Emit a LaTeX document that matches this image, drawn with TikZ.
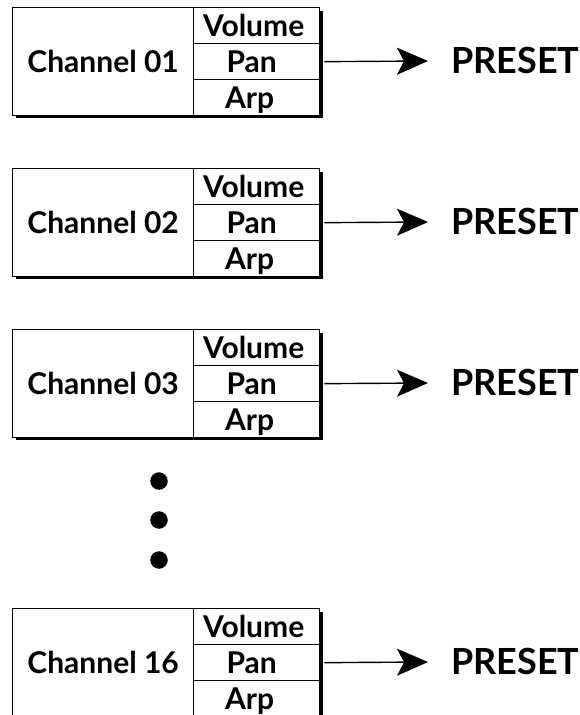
\documentclass[tikz,border=0pt]{standalone}
\usepackage{fontspec}
\setmainfont{Lato}
\usetikzlibrary{arrows.meta}
\begin{document}
\begin{tikzpicture}[x=1pt,y=-1pt,
  boxline/.style={draw, line width=1.3pt, fill=white, inner sep=0pt, anchor=north west,
    text height=21.5pt, text depth=0pt},
  chan/.style={boxline, minimum width=181pt, minimum height=108pt,
    font=\bfseries\fontsize{30}{30}\selectfont},
  cell/.style={boxline, minimum width=126pt, minimum height=36pt,
    font=\bfseries\fontsize{30}{30}\selectfont},
  pre/.style={inner sep=0pt, anchor=west, text height=25.8pt, text depth=0pt,
    font=\bfseries\fontsize{36}{36}\selectfont},
  arr/.style={line width=1.4pt, -{Stealth[length=31pt, width=27pt, inset=7pt]}},
  dot/.style={circle, fill, inner sep=0pt, minimum size=17.5pt}]
\useasboundingbox (0,0) rectangle (579,715);
\foreach \t/\n in {7/01,168/02,329/03,608/16}{
  \fill (16,\t+4) rectangle (323,\t+111);
  \node[chan] (ch\n) at (12,\t) {Channel \n};
  \node[cell] (vol\n) at (193,\t) {\hspace*{-6pt}Volume};
  \node[cell] (pan\n) at (193,\t+36) {\hspace*{-10pt}Pan};
  \node[cell] (arp\n) at (193,\t+72) {\hspace*{-14pt}Arp};
  \node[pre] (pre\n) at (451,\t+54) {PRESET};
  \draw[arr] ([xshift=4pt]pan\n.east) -- ([xshift=-23pt]pre\n.west);
}
\node[dot] (d1) at (159,481) {};
\node[dot] (d2) at (159,520) {};
\node[dot] (d3) at (159,560) {};
\end{tikzpicture}
\end{document}
